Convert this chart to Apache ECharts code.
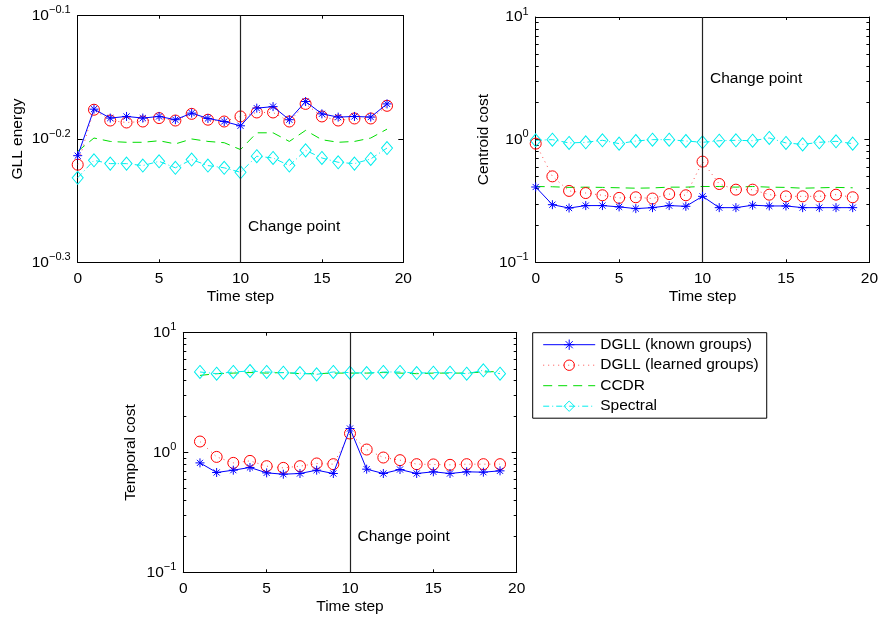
<!DOCTYPE html>
<html>
<head>
<meta charset="utf-8">
<script src="https://cdn.jsdelivr.net/npm/echarts@6/dist/echarts.min.js"></script>
<style>
html,body{margin:0;padding:0;background:#fff;}
#chart{width:881px;height:617px;}
</style>
</head>
<body>
<div id="chart"></div>
<script>
// ---------- data ----------
const seriesNames = ['DGLL (known groups)', 'DGLL (learned groups)', 'CCDR', 'Spectral'];
const stepsTop = [0,1,2,3,4,5,6,7,8,9,10,11,12,13,14,15,16,17,18,19];
const stepsBottom = [1,2,3,4,5,6,7,8,9,10,11,12,13,14,15,16,17,18,19];

// Panel 1: GLL energy
const gllKnown    = [0.6116,0.6671,0.6561,0.6581,0.6561,0.6581,0.6541,0.6622,0.6556,0.6519,0.6467,0.6684,0.6703,0.6541,0.6767,0.6613,0.6573,0.6581,0.6573,0.6737];
const gllLearned  = [0.6014,0.6664,0.6531,0.6507,0.6519,0.6561,0.6531,0.6613,0.6541,0.6519,0.6581,0.6630,0.6630,0.6519,0.6737,0.6581,0.6531,0.6556,0.6556,0.6713];
const gllCcdr     = [0.6166,0.6321,0.6281,0.6271,0.6271,0.6289,0.6252,0.6310,0.6281,0.6266,0.6186,0.6383,0.6383,0.6281,0.6412,0.6301,0.6271,0.6281,0.6321,0.6427];
const gllSpectral = [0.5869,0.6063,0.6026,0.6026,0.6004,0.6052,0.5979,0.6072,0.6004,0.5979,0.5929,0.6110,0.6090,0.6004,0.6177,0.6090,0.6041,0.6026,0.6079,0.6204];

// Panel 2: Centroid cost
const centKnown    = [0.411,0.295,0.277,0.290,0.290,0.283,0.274,0.279,0.290,0.286,0.345,0.279,0.279,0.292,0.288,0.288,0.279,0.279,0.279,0.279];
const centLearned  = [0.928,0.502,0.382,0.367,0.352,0.335,0.339,0.331,0.360,0.352,0.662,0.435,0.391,0.391,0.356,0.345,0.345,0.345,0.356,0.339];
const centCcdr     = [0.415,0.413,0.408,0.410,0.408,0.405,0.402,0.404,0.410,0.410,0.415,0.415,0.410,0.415,0.410,0.408,0.402,0.405,0.408,0.405];
const centSpectral = [0.988,1.000,0.940,0.951,0.988,0.928,0.975,1.000,1.000,0.975,0.951,0.980,0.988,0.980,1.032,0.940,0.915,0.951,0.970,0.928];

// Panel 3: Temporal cost
const tempKnown    = [0.819,0.681,0.712,0.750,0.676,0.659,0.668,0.712,0.668,1.585,0.726,0.668,0.721,0.668,0.690,0.668,0.690,0.685,0.703];
const tempLearned  = [1.235,0.919,0.819,0.851,0.769,0.744,0.769,0.810,0.799,1.440,1.059,0.908,0.863,0.799,0.795,0.789,0.799,0.799,0.799];
const tempCcdr     = [4.40,4.55,4.60,4.65,4.60,4.65,4.55,4.55,4.60,4.60,4.60,4.65,4.60,4.55,4.60,4.60,4.60,4.70,4.75];
const tempSpectral = [4.70,4.55,4.70,4.79,4.70,4.64,4.60,4.49,4.70,4.64,4.60,4.70,4.70,4.60,4.64,4.64,4.55,4.85,4.55];

// change point and its label height (data units)
const changePoint = 10;
const changeLabelY = [0.5358, 3.12, 0.1965];

// axis ranges / ticks
const yExpRanges = [[-0.3, -0.1], [-1, 1], [-1, 1]];
const yExpIntervals = [0.1, 1, 1];
const minorTickExps = [];
[-1, 0].forEach(function (e) {
  [2,3,4,5,6,7,8,9].forEach(function (k) { minorTickExps.push(e + Math.log10(k)); });
});
const yNames = ['GLL energy', 'Centroid cost', 'Temporal cost'];
const xName = 'Time step';
const changeText = 'Change point';

// ---------- layout ----------
const FONT = "'Liberation Sans', Arial, Helvetica, sans-serif";
const grids = [
  {left: 77.7, top: 15.7, width: 325.6, height: 246.6},
  {left: 535.7, top: 17, width: 335, height: 245.3},
  {left: 183.3, top: 332.7, width: 333.4, height: 239.6}
];
const yNameGaps = [52, 44, 45];

const C_KNOWN = '#0000ff', C_LEARNED = '#ff0000', C_CCDR = '#00dd00', C_SPEC = '#00eeee';
const ASTERISK = 'path://M5,0L5,10M0,5L10,5M1.6,1.6L8.4,8.4M1.6,8.4L8.4,1.6';

function expLabel(v) {
  let e = Math.round(Math.log10(v) * 10) / 10;
  let s = (e < 0 ? '\u2212' : '') + String(Math.abs(e));
  return '{b|10}{s|' + s + '}';
}

const xAxes = [], yAxes = [], series = [];
const axisLineStyle = {color: '#000', width: 1};

grids.forEach(function (g, gi) {
  xAxes.push({
    type: 'value', gridIndex: gi, min: 0, max: 20, interval: 5, position: 'bottom',
    name: xName, nameLocation: 'middle', nameGap: 26,
    nameTextStyle: {fontFamily: FONT, fontSize: 15.5, color: '#000'},
    axisLine: {show: true, onZero: false, lineStyle: axisLineStyle},
    axisTick: {show: true, inside: true, length: 3, lineStyle: axisLineStyle},
    axisLabel: {show: true, margin: 8, fontFamily: FONT, fontSize: 15.5, color: '#000', showMinLabel: true, showMaxLabel: true},
    splitLine: {show: false}
  });
  xAxes.push({
    type: 'value', gridIndex: gi, min: 0, max: 20, interval: 5, position: 'top',
    axisLine: {show: true, onZero: false, lineStyle: axisLineStyle},
    axisTick: {show: true, inside: true, length: 3, lineStyle: axisLineStyle},
    axisLabel: {show: false}, splitLine: {show: false}
  });
  const r = yExpRanges[gi];
  const baseY = {
    type: 'log', logBase: 10, gridIndex: gi,
    min: Math.pow(10, r[0]), max: Math.pow(10, r[1]), interval: yExpIntervals[gi],
    splitLine: {show: false}, minorTick: {show: false}
  };
  yAxes.push(Object.assign({}, baseY, {
    position: 'left',
    name: yNames[gi], nameLocation: 'middle', nameGap: yNameGaps[gi], nameRotate: 90,
    nameTextStyle: {fontFamily: FONT, fontSize: 15.5, color: '#000'},
    axisLine: {show: true, onZero: false, lineStyle: axisLineStyle},
    axisTick: {show: true, inside: true, length: 5, lineStyle: axisLineStyle},
    axisLabel: {
      show: true, margin: 7, showMinLabel: true, showMaxLabel: true,
      formatter: expLabel,
      rich: {
        b: {fontFamily: FONT, fontSize: 15.5, color: '#000'},
        s: {fontFamily: FONT, fontSize: 11, color: '#000', padding: [0, 0, 11, 0]}
      }
    }
  }));
  yAxes.push(Object.assign({}, baseY, {
    position: 'right',
    axisLine: {show: true, onZero: false, lineStyle: axisLineStyle},
    axisTick: {show: true, inside: true, length: 5, lineStyle: axisLineStyle},
    axisLabel: {show: false}
  }));
  if (gi > 0) {
    ['left', 'right'].forEach(function (pos) {
      yAxes.push({
        type: 'value', gridIndex: gi, min: -1, max: 1, position: pos,
        axisLine: {show: false, onZero: false},
        axisTick: {show: true, inside: true, length: 3, customValues: minorTickExps, lineStyle: axisLineStyle},
        axisLabel: {show: false}, splitLine: {show: false}
      });
    });
  }
});

const yMainIndex = [0, 2, 6];
const xMainIndex = [0, 2, 4];

const panelData = [
  {steps: stepsTop, vals: [gllKnown, gllLearned, gllCcdr, gllSpectral]},
  {steps: stepsTop, vals: [centKnown, centLearned, centCcdr, centSpectral]},
  {steps: stepsBottom, vals: [tempKnown, tempLearned, tempCcdr, tempSpectral]}
];

function pairs(xs, ys) { return xs.map(function (x, i) { return [x, ys[i]]; }); }

panelData.forEach(function (p, gi) {
  const common = {
    type: 'line', xAxisIndex: xMainIndex[gi], yAxisIndex: yMainIndex[gi],
    showAllSymbol: true, animation: false, silent: true,
    emphasis: {disabled: true}
  };
  series.push(Object.assign({}, common, {
    name: seriesNames[0], data: pairs(p.steps, p.vals[0]), z: 5,
    symbol: ASTERISK, symbolSize: 9,
    lineStyle: {color: C_KNOWN, width: 1, type: 'solid'},
    itemStyle: {color: C_KNOWN, borderColor: C_KNOWN, borderWidth: 1},
    markLine: {
      silent: true, symbol: ['none', 'none'], animation: false,
      label: {show: false},
      lineStyle: {color: '#222', width: 1.2, type: 'solid'},
      emphasis: {disabled: true},
      data: [{xAxis: changePoint}]
    },
    markPoint: {
      silent: true, animation: false, symbol: 'circle', symbolSize: 1,
      itemStyle: {color: 'rgba(0,0,0,0)'},
      label: {show: true, position: 'right', distance: 7, formatter: changeText,
              fontFamily: FONT, fontSize: 15.5, color: '#000'},
      data: [{coord: [changePoint, changeLabelY[gi]]}]
    }
  }));
  series.push(Object.assign({}, common, {
    name: seriesNames[1], data: pairs(p.steps, p.vals[1]), z: 4,
    symbol: 'circle', symbolSize: 11,
    lineStyle: {color: C_LEARNED, width: 1, type: [1, 4], opacity: 0.7},
    itemStyle: {color: 'rgba(0,0,0,0)', borderColor: C_LEARNED, borderWidth: 1}
  }));
  series.push(Object.assign({}, common, {
    name: seriesNames[2], data: pairs(p.steps, p.vals[2]), z: 3,
    symbol: 'none',
    lineStyle: {color: C_CCDR, width: 1, type: [9, 6]},
    itemStyle: {color: C_CCDR}
  }));
  series.push(Object.assign({}, common, {
    name: seriesNames[3], data: pairs(p.steps, p.vals[3]), z: 3,
    symbol: 'diamond', symbolSize: [11, 13],
    lineStyle: {color: C_SPEC, width: 1, type: [6, 3, 1, 3]},
    itemStyle: {color: 'rgba(0,0,0,0)', borderColor: C_SPEC, borderWidth: 1}
  }));
});

const option = {
  backgroundColor: '#fff',
  animation: false,
  grid: grids.map(function (g) { return Object.assign({containLabel: false, show: false}, g); }),
  xAxis: xAxes,
  yAxis: yAxes,
  legend: {
    data: [
      {name: seriesNames[0]},
      {name: seriesNames[1]},
      {name: seriesNames[2], itemStyle: {opacity: 0}},
      {name: seriesNames[3]}
    ],
    orient: 'vertical',
    left: 532.7, top: 332.7,
    padding: [4, 8, 4, 10],
    itemWidth: 52, itemHeight: 13, itemGap: 4.5,
    borderColor: '#000', borderWidth: 1, backgroundColor: '#fff',
    selectedMode: false,
    lineStyle: {width: 1},
    itemStyle: {borderWidth: 1},
    textStyle: {fontFamily: FONT, fontSize: 15.5, lineHeight: 14, color: '#000'}
  },
  series: series
};

const chart = echarts.init(document.getElementById('chart'), null, {renderer: 'canvas'});
chart.setOption(option);
</script>
</body>
</html>
